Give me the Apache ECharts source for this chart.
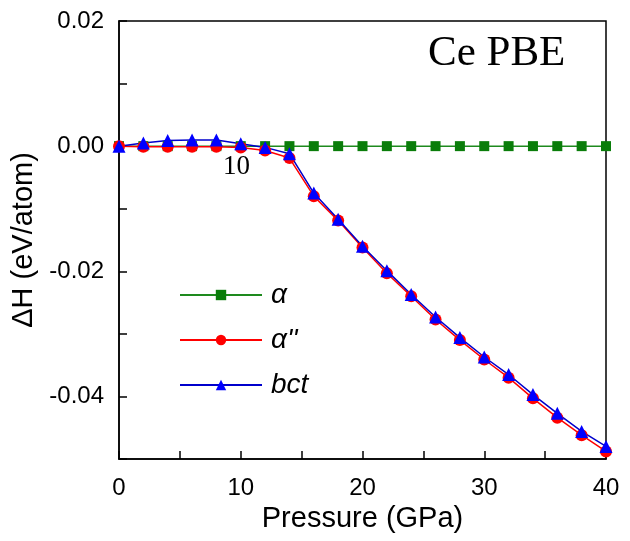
<!DOCTYPE html>
<html><head><meta charset="utf-8">
<script src="https://cdn.jsdelivr.net/npm/echarts@6/dist/echarts.min.js"></script>
<style>html,body{margin:0;padding:0;background:#fff}#c{width:630px;height:541px}</style>
</head><body><div id="c"></div>
<script>
const pressure = [0,2,4,6,8,10,12,14,16,18,20,22,24,26,28,30,32,34,36,38,40];
const alphaVals = [0,0,0,0,0,0,0,0,0,0,0,0,0,0,0,0,0,0,0,0,0];
const alpha2Vals = [0,-0.0001,-0.0001,-0.0001,-0.0001,-0.0002,-0.0007,-0.0019,-0.0080,-0.0119,-0.0162,-0.0203,-0.0240,-0.0277,-0.0310,-0.0341,-0.0370,-0.0403,-0.0434,-0.0462,-0.0488];
const bctVals = [0,0.0005,0.0009,0.0010,0.0010,0.0004,-0.0002,-0.0012,-0.0075,-0.0117,-0.0160,-0.0199,-0.0237,-0.0273,-0.0306,-0.0337,-0.0365,-0.0397,-0.0427,-0.0456,-0.0480];
const seriesNames = ['α', "α''", 'bct'];
const xTickLabels = ['0','10','20','30','40'];
const yTickLabels = ['0.02','0.00','-0.02','-0.04'];

const pair = v => pressure.map((p,i)=>[p, v[i]]);
const chart = echarts.init(document.getElementById('c'));
const sans = 'Liberation Sans, Arial, sans-serif';
chart.setOption({
  animation:false,
  grid:{left:119,right:24,top:21,bottom:82,show:true,borderColor:'#000',borderWidth:1.5,backgroundColor:'transparent'},
  legend:{
    orient:'vertical', left:174, top:276, itemGap:17, itemWidth:82, itemHeight:13,
    textStyle:{fontFamily:sans,fontStyle:'italic',fontSize:28,color:'#000',padding:[0,0,0,4]},
    data:seriesNames
  },
  xAxis:{type:'value',min:0,max:40,interval:5,
    name:'Pressure (GPa)',nameLocation:'middle',nameGap:42,
    nameTextStyle:{fontFamily:sans,fontSize:29,color:'#000'},
    axisLine:{onZero:false,lineStyle:{color:'#000',width:1.5}},
    axisTick:{inside:true,length:8,lineStyle:{color:'#000',width:1.5}},
    axisLabel:{fontFamily:sans,fontSize:24,color:'#000',margin:17,
      formatter:v=>{const k=Math.round(v/10); return Math.abs(v-k*10)<1e-6 ? xTickLabels[k] : '';}},
    splitLine:{show:false}},
  yAxis:{type:'value',min:-0.05,max:0.02,interval:0.01,
    name:'ΔH (eV/atom)',nameLocation:'middle',nameGap:80,nameRotate:90,
    nameTextStyle:{fontFamily:sans,fontSize:29,color:'#000'},
    axisLine:{onZero:false,lineStyle:{color:'#000',width:1.5}},
    axisTick:{inside:true,length:8,lineStyle:{color:'#000',width:1.5}},
    axisLabel:{fontFamily:sans,fontSize:24,color:'#000',margin:15,
      formatter:v=>{const k=Math.round(v*100); if(k%2!==0) return ''; const idx=(2-k)/2; return yTickLabels[idx]||'';}},
    splitLine:{show:false}},
  graphic:[
    {type:'text',left:428,top:32,style:{text:'Ce PBE',font:'43px "Liberation Serif", "Times New Roman", serif',fill:'#000'}},
    {type:'text',left:223,top:153,style:{text:'10',font:'27px "Liberation Serif", "Times New Roman", serif',fill:'#000'}}
  ],
  series:[
    {name:seriesNames[0],type:'line',data:pair(alphaVals),symbol:'rect',symbolSize:10,
      lineStyle:{color:'#1e8a1e',width:1.5},itemStyle:{color:'#0a7d0a'}},
    {name:seriesNames[1],type:'line',data:pair(alpha2Vals),symbol:'circle',symbolSize:12,
      lineStyle:{color:'#ff0000',width:1.5},itemStyle:{color:'#ff0000'}},
    {name:seriesNames[2],type:'line',data:pair(bctVals),symbol:'triangle',symbolSize:13,
      lineStyle:{color:'#0000cc',width:1.5},itemStyle:{color:'#0000ff'}}
  ]
});
</script></body></html>
